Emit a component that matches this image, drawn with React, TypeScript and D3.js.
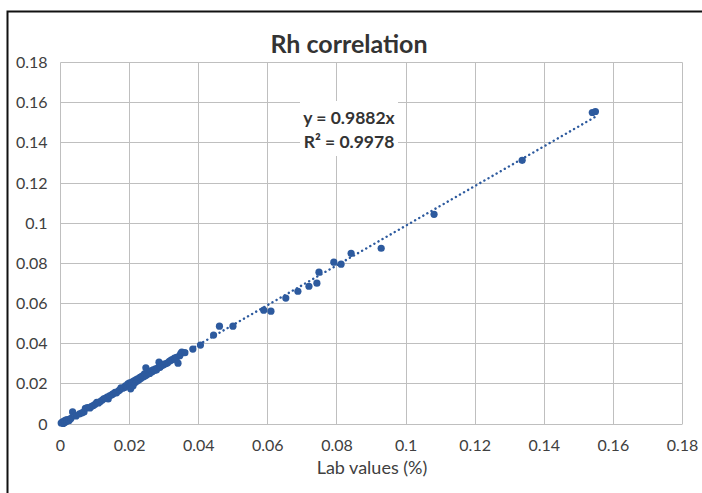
import React from "react";
import * as d3 from "d3";

const title = "Rh correlation";
const xAxisTitle = "Lab values (%)";
const tickValues = [0, 0.02, 0.04, 0.06, 0.08, 0.1, 0.12, 0.14, 0.16, 0.18];
const slope = 0.9882;
const equationLines = ["y = 0.9882x", "R² = 0.9978"];

const labValues = [
  0.0002, 0.0005, 0.0008, 0.001, 0.0012, 0.0015, 0.0018, 0.002, 0.0025, 0.003, 0.0035, 0.0045,
  0.0055, 0.0062, 0.0068, 0.0072, 0.0078, 0.0085, 0.009, 0.0095, 0.01, 0.0105, 0.011, 0.0115,
  0.012, 0.0125, 0.013, 0.0135, 0.0138, 0.0142, 0.0148, 0.0152, 0.0158, 0.0162, 0.0168, 0.0172,
  0.0175, 0.018, 0.0185, 0.0188, 0.0192, 0.0195, 0.0198, 0.02, 0.0203, 0.0205, 0.0208, 0.021,
  0.0213, 0.0215, 0.0218, 0.022, 0.0223, 0.0225, 0.0228, 0.023, 0.0233, 0.0236, 0.024, 0.0243,
  0.0245, 0.0247, 0.025, 0.0255, 0.0258, 0.0262, 0.0265, 0.0268, 0.0272, 0.0275, 0.0278, 0.0282,
  0.0285, 0.0288, 0.0292, 0.0296, 0.03, 0.0305, 0.031, 0.0315, 0.032, 0.0325, 0.033, 0.0333,
  0.0336, 0.034, 0.0345, 0.0348, 0.0351, 0.036, 0.0383, 0.0405, 0.0443, 0.046, 0.0499, 0.0588,
  0.0609, 0.0652, 0.0687, 0.0719, 0.0742, 0.0748, 0.0791, 0.0812, 0.0841, 0.0928, 0.1081, 0.1336,
  0.1539, 0.1548,
];
const measuredValues = [
  0.0005, 0.001, 0.0003, 0.0015, 0.0008, 0.002, 0.0012, 0.0022, 0.0018, 0.0028, 0.006, 0.004,
  0.005, 0.0055, 0.006, 0.0078, 0.0082, 0.008, 0.0088, 0.0092, 0.0098, 0.0108, 0.0105, 0.0112,
  0.0118, 0.0125, 0.0128, 0.0134, 0.0125, 0.014, 0.0145, 0.015, 0.0158, 0.0155, 0.0165, 0.017,
  0.018, 0.0178, 0.0182, 0.019, 0.0188, 0.02, 0.0192, 0.0205, 0.0175, 0.0198, 0.021, 0.019,
  0.0215, 0.0205, 0.022, 0.0212, 0.0225, 0.0218, 0.0222, 0.0232, 0.0228, 0.0238, 0.0235, 0.025,
  0.024, 0.028, 0.0245, 0.0258, 0.0252, 0.0265, 0.026, 0.027, 0.0266, 0.0275, 0.027, 0.028,
  0.0308, 0.0282, 0.029, 0.0292, 0.0298, 0.03, 0.0305, 0.0312, 0.0318, 0.0322, 0.0328, 0.0323,
  0.0332, 0.0303, 0.034, 0.035, 0.0358, 0.0355, 0.0373, 0.0393, 0.0443, 0.0487, 0.0487, 0.0567,
  0.0562, 0.0627, 0.0661, 0.0686, 0.0701, 0.0756, 0.0806, 0.0796, 0.085, 0.0875, 0.1044, 0.1313,
  0.1551, 0.1556,
];

const W = 702;
const H = 493;
const plot = { left: 60.5, right: 682.5, top: 62.5, bottom: 424 };
const dotColor = "#2D5A9E";
const gridColor = "#BFBFBF";
const font = "Lato, 'Open Sans', sans-serif";

export default function App() {
  const x = d3.scaleLinear().domain([0, 0.18]).range([plot.left, plot.right]);
  const y = d3.scaleLinear().domain([0, 0.18]).range([plot.bottom, plot.top]);
  const fmt = (v: number) => (v === 0 ? "0" : d3.format("~g")(v));
  const points = labValues.map((v, i) => [v, measuredValues[i]] as [number, number]);
  const xMax = d3.max(labValues) as number;
  const trend = d3.line<number>().x((v) => x(v)).y((v) => y(v * slope))([0, xMax]) as string;
  const snap = (v: number) => Math.round(v - 0.5) + 0.5;

  return (
    <svg
      width={W}
      height={H}
      style={{ position: "absolute", left: 0, top: 0, background: "#fff" }}
    >
      <rect x={0} y={0} width={W} height={H} fill="#fff" />
      <rect x={7.5} y={11.5} width={W + 10} height={H + 10} fill="#fff" stroke="#111" strokeWidth={2} />
      <text x={349} y={53} textAnchor="middle" fontFamily={font} fontWeight={700} fontSize={25} fill="#333">
        {title}
      </text>
      <g>
        {tickValues.map((t) => (
          <line key={"v" + t} x1={snap(x(t))} x2={snap(x(t))} y1={plot.top} y2={plot.bottom} stroke={gridColor} strokeWidth={1} />
        ))}
        {tickValues.map((t) => (
          <line key={"h" + t} x1={plot.left} x2={plot.right} y1={snap(y(t))} y2={snap(y(t))} stroke={gridColor} strokeWidth={1} />
        ))}
      </g>
      <g fontFamily={font} fontSize={16} fill="#404040">
        {tickValues.map((t) => (
          <text key={"yl" + t} x={plot.left - 13} y={y(t)} dy="0.35em" textAnchor="end">
            {fmt(t)}
          </text>
        ))}
        {tickValues.map((t) => (
          <text key={"xl" + t} x={x(t)} y={plot.bottom + 21} dy="0.35em" textAnchor="middle">
            {fmt(t)}
          </text>
        ))}
      </g>
      <text x={372} y={474} textAnchor="middle" fontFamily={font} fontSize={18} fill="#404040">
        {xAxisTitle}
      </text>
      <g>
        {points.map((p, i) => (
          <circle key={i} cx={x(p[0])} cy={y(p[1])} r={3.6} fill={dotColor} />
        ))}
      </g>
      <path d={trend} fill="none" stroke={dotColor} strokeWidth={2.4} strokeDasharray="0.1 4.6" strokeLinecap="round" />
      <rect x={300} y={101} width={98} height={55} fill="#fff" />
      <g fontFamily={font} fontWeight={700} fontSize={17.5} fill="#333" textAnchor="middle">
        <text x={349} y={124}>{equationLines[0]}</text>
        <text x={349} y={148}>{equationLines[1]}</text>
      </g>
    </svg>
  );
}
